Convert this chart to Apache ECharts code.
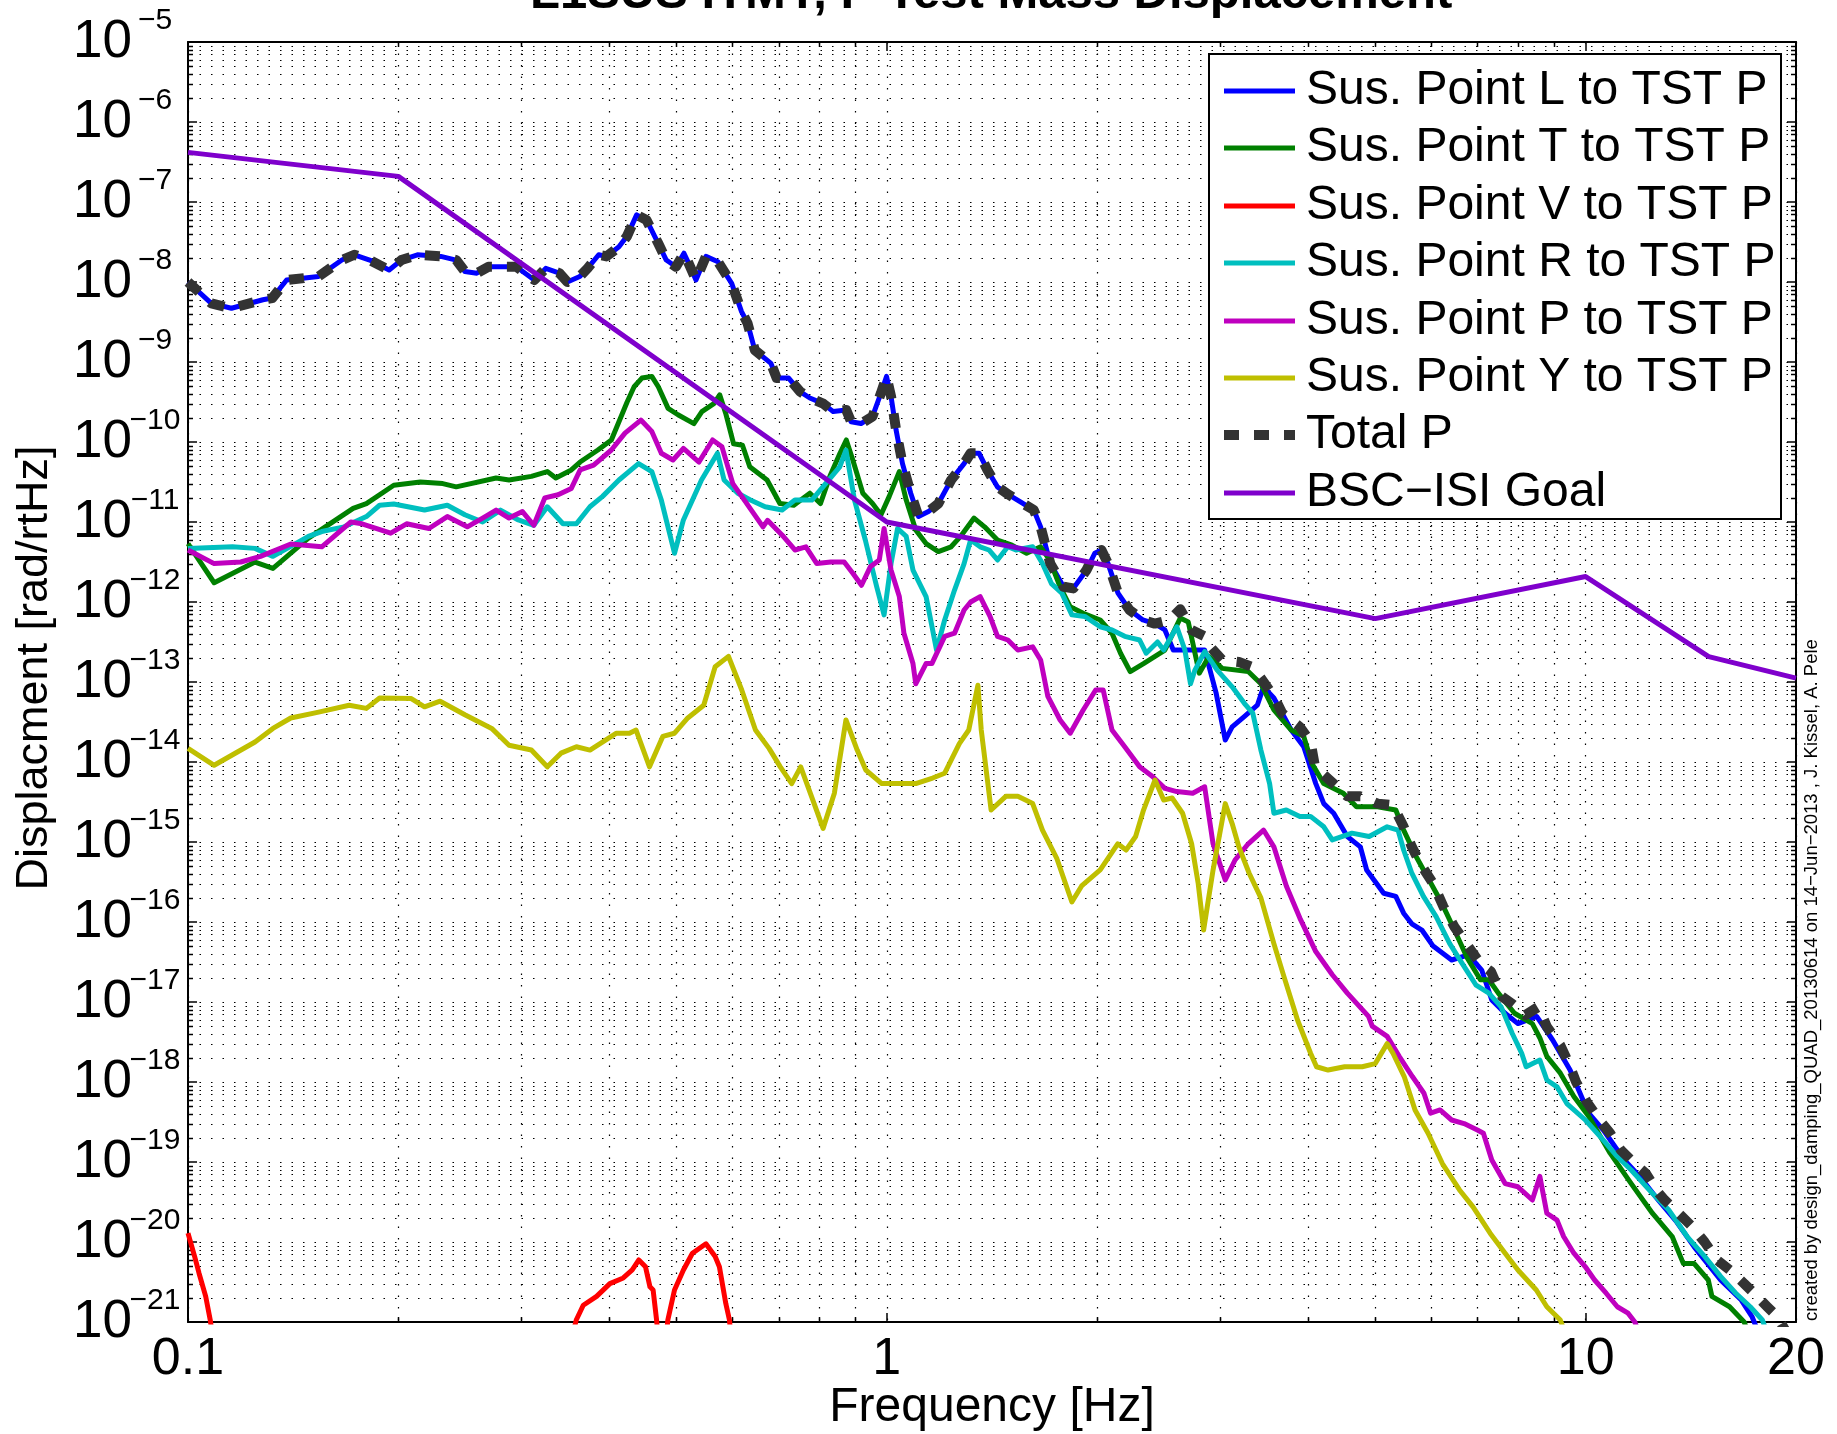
<!DOCTYPE html>
<html>
<head>
<meta charset="utf-8">
<script src="https://cdn.jsdelivr.net/npm/echarts@6/dist/echarts.min.js"></script>
<style>
  html, body { margin: 0; padding: 0; background: #ffffff; }
  #chart { width: 1837px; height: 1434px; }
</style>
</head>
<body>
<div id="chart"></div>
<script>
const FONT = '"Liberation Sans", Arial, Helvetica, sans-serif';

// Sus. Point L to TST P
const freqL = [0.1, 0.108, 0.1154, 0.128, 0.132, 0.1384, 0.1537, 0.166, 0.173, 0.182,
  0.194, 0.202, 0.213, 0.23, 0.242, 0.249, 0.259, 0.269, 0.28, 0.295,
  0.313, 0.325, 0.34, 0.349, 0.3636, 0.373, 0.387, 0.397, 0.4137, 0.4247,
  0.4385, 0.453, 0.471, 0.4835, 0.4992, 0.5125, 0.5193, 0.5332, 0.551, 0.5733,
  0.5998, 0.6196, 0.632, 0.6473, 0.6827, 0.6955, 0.7237, 0.7513, 0.776, 0.8109,
  0.838, 0.875, 0.889, 0.9185, 0.954, 0.9807, 0.999, 1.014, 1.031, 1.053,
  1.082, 1.11, 1.147, 1.185, 1.236, 1.29, 1.318, 1.355, 1.393, 1.4395,
  1.495, 1.553, 1.623, 1.66, 1.714, 1.79, 1.849, 1.931, 1.984, 2.028,
  2.073, 2.142, 2.225, 2.325, 2.418, 2.5, 2.57, 2.7, 2.85, 2.96,
  3.05, 3.12, 3.25, 3.39, 3.46, 3.58, 3.79, 3.95, 4.11, 4.22,
  4.36, 4.56, 4.76, 4.86, 5.14, 5.35, 5.49, 5.64, 5.83, 6.05,
  6.43, 6.8, 7.1, 7.34, 7.67, 8.0, 8.51, 8.97, 9.5, 10.1,
  10.6, 11.36, 12.0, 12.7, 13.5, 14.3, 15.6, 16.7, 17.3, 17.8];
const dispL = [1.0e-8, 5.4e-9, 4.7e-9, 6.0e-9, 6.3e-9, 1.06e-8, 1.17e-8, 1.88e-8, 2.19e-8, 1.88e-8,
  1.41e-8, 1.88e-8, 2.19e-8, 2.09e-8, 1.88e-8, 1.35e-8, 1.29e-8, 1.55e-8, 1.55e-8, 1.55e-8,
  1.06e-8, 1.48e-8, 1.29e-8, 1.0e-8, 1.17e-8, 1.48e-8, 2.19e-8, 2.09e-8, 2.75e-8, 3.72e-8,
  6.9e-8, 5.96e-8, 3.02e-8, 1.88e-8, 1.55e-8, 2.29e-8, 1.79e-8, 1.06e-8, 2.09e-8, 1.79e-8,
  9.6e-9, 4.27e-9, 3.05e-9, 1.41e-9, 9.6e-10, 6.3e-10, 6.3e-10, 4.27e-10, 3.55e-10, 3.02e-10,
  2.4e-10, 2.51e-10, 1.79e-10, 1.7e-10, 2.09e-10, 4.07e-10, 6.6e-10, 3.72e-10, 1.41e-10, 5.37e-11,
  2.29e-11, 1.17e-11, 1.35e-11, 1.7e-11, 3.35e-11, 5.37e-11, 7.24e-11, 7.24e-11, 4.47e-11, 2.75e-11,
  2.19e-11, 1.78e-11, 1.41e-11, 8.7e-12, 3.02e-12, 1.55e-12, 1.48e-12, 2.51e-12, 4.07e-12, 4.47e-12,
  3.02e-12, 1.29e-12, 7.94e-13, 5.96e-13, 5.37e-13, 4.47e-13, 2.51e-13, 2.51e-13, 2.51e-13, 7.24e-14,
  1.88e-14, 2.75e-14, 3.72e-14, 5.13e-14, 8.7e-14, 6.3e-14, 2.51e-14, 1.55e-14, 5.37e-15, 3.02e-15,
  2.29e-15, 1.17e-15, 8.7e-16, 4.47e-16, 2.29e-16, 2.09e-16, 1.29e-16, 9.5e-17, 7.94e-17, 5.0e-17,
  3.35e-17, 3.89e-17, 2.51e-17, 1.06e-17, 7.24e-18, 5.37e-18, 6.6e-18, 3.35e-18, 1.41e-18, 4.07e-19,
  2.51e-19, 1.06e-19, 6.3e-20, 3.35e-20, 1.78e-20, 8.7e-21, 3.35e-21, 1.88e-21, 1.17e-21, 6.3e-22];

// Sus. Point T to TST P
const freqT = [0.1, 0.109, 0.1247, 0.1323, 0.1487, 0.1723, 0.18, 0.197, 0.215, 0.2315,
  0.242, 0.276, 0.288, 0.31, 0.3267, 0.336, 0.3536, 0.364, 0.386, 0.4035,
  0.425, 0.4349, 0.4462, 0.461, 0.471, 0.4864, 0.5025, 0.5296, 0.5437, 0.5655,
  0.5766, 0.588, 0.6036, 0.6215, 0.6366, 0.674, 0.703, 0.736, 0.776, 0.8035,
  0.829, 0.857, 0.875, 0.894, 0.924, 0.954, 0.981, 1.008, 1.042, 1.066,
  1.1, 1.138, 1.185, 1.236, 1.275, 1.333, 1.38, 1.44, 1.51, 1.585,
  1.66, 1.71, 1.77, 1.83, 1.91, 2.02, 2.1, 2.16, 2.23, 2.33,
  2.5, 2.63, 2.7, 2.8, 2.89, 3.02, 3.29, 3.43, 3.58, 3.79,
  3.95, 4.06, 4.22, 4.5, 4.7, 5.04, 5.35, 5.49, 5.72, 5.97,
  6.23, 6.49, 6.77, 7.07, 7.27, 7.5, 7.91, 8.39, 8.6, 8.8,
  9.2, 9.62, 10.1, 10.84, 11.62, 12.46, 13.3, 13.8, 14.3, 14.98,
  15.16, 16.07, 16.86, 17.2];
const dispT = [5.37e-12, 1.74e-12, 3.16e-12, 2.63e-12, 6.3e-12, 1.48e-11, 1.7e-11, 2.88e-11, 3.16e-11, 3.02e-11,
  2.75e-11, 3.55e-11, 3.35e-11, 3.72e-11, 4.27e-11, 3.55e-11, 4.47e-11, 5.62e-11, 7.94e-11, 1.06e-10,
  3.16e-10, 4.9e-10, 6.3e-10, 6.6e-10, 4.9e-10, 2.63e-10, 2.19e-10, 1.7e-10, 2.4e-10, 3.02e-10,
  3.89e-10, 2.29e-10, 9.5e-11, 9.1e-11, 4.9e-11, 3.35e-11, 1.7e-11, 1.62e-11, 2.29e-11, 1.7e-11,
  3.72e-11, 7.24e-11, 1.06e-10, 5.96e-11, 2.29e-11, 1.7e-11, 1.23e-11, 2.09e-11, 4.27e-11, 1.88e-11,
  7.94e-12, 5.37e-12, 4.27e-12, 4.9e-12, 6.6e-12, 1.12e-11, 8.7e-12, 5.96e-12, 5.13e-12, 4.07e-12,
  4.9e-12, 3.35e-12, 1.55e-12, 8.7e-13, 7.24e-13, 5.96e-13, 4.07e-13, 2.29e-13, 1.35e-13, 1.7e-13,
  2.51e-13, 6.3e-13, 5.62e-13, 1.29e-13, 2.09e-13, 1.48e-13, 1.35e-13, 9.5e-14, 4.47e-14, 2.51e-14,
  2.09e-14, 9.5e-15, 5.37e-15, 4.07e-15, 2.75e-15, 2.75e-15, 2.51e-15, 1.41e-15, 6.6e-16, 3.35e-16,
  1.7e-16, 7.94e-17, 3.55e-17, 1.9e-17, 1.9e-17, 1.29e-17, 7.24e-18, 5.37e-18, 3.55e-18, 2.09e-18,
  1.29e-18, 6.6e-19, 3.72e-19, 1.29e-19, 5.37e-20, 2.29e-20, 1.17e-20, 5.37e-21, 5.37e-21, 3.35e-21,
  2.09e-21, 1.55e-21, 1.0e-21, 6.3e-22];

// Sus. Point V to TST P (mostly below the plotted range)
const freqV = [0.1, 0.1022, 0.1037, 0.106, 0.1076, 0.109, 0.352, 0.3594, 0.3678, 0.3843,
  0.4015, 0.4196, 0.4322, 0.4417, 0.4515, 0.4582, 0.463, 0.4683, 0.472, 0.482,
  0.486, 0.4968, 0.5116, 0.527, 0.551, 0.568, 0.576, 0.5883, 0.5954, 0.6];
const dispV = [1.29e-20, 6.6e-21, 4.07e-21, 2.09e-21, 1.06e-21, 5.0e-22, 5.0e-22, 1.06e-21, 1.62e-21, 2.09e-21,
  3.02e-21, 3.55e-21, 4.47e-21, 5.96e-21, 4.9e-21, 2.75e-21, 2.51e-21, 1.06e-21, 5.0e-22, 5.0e-22,
  1.06e-21, 2.51e-21, 4.47e-21, 7.24e-21, 9.5e-21, 6.6e-21, 4.9e-21, 1.7e-21, 1.06e-21, 5.0e-22];

// Sus. Point R to TST P
const freqR = [0.1, 0.1158, 0.1247, 0.1323, 0.1487, 0.1554, 0.1673, 0.18, 0.188, 0.197,
  0.218, 0.235, 0.249, 0.264, 0.28, 0.297, 0.3125, 0.3267, 0.344, 0.3596,
  0.376, 0.392, 0.4137, 0.4413, 0.461, 0.4757, 0.4968, 0.5116, 0.543, 0.5723,
  0.585, 0.612, 0.638, 0.6696, 0.7083, 0.7387, 0.781, 0.8563, 0.874, 0.899,
  0.9316, 0.9672, 0.991, 1.014, 1.036, 1.066, 1.09, 1.138, 1.163, 1.178,
  1.21, 1.25, 1.29, 1.318, 1.36, 1.4, 1.44, 1.49, 1.53, 1.617,
  1.67, 1.72, 1.78, 1.84, 1.92, 2.02, 2.1, 2.19, 2.3, 2.35,
  2.44, 2.49, 2.6, 2.67, 2.72, 2.76, 2.85, 2.97, 3.12, 3.25,
  3.34, 3.43, 3.53, 3.58, 3.73, 3.9, 4.04, 4.22, 4.34, 4.63,
  4.9, 5.2, 5.39, 5.49, 5.64, 5.86, 6.11, 6.39, 6.66, 6.97,
  7.27, 7.57, 7.85, 8.1, 8.22, 8.6, 8.8, 9.1, 9.4, 9.99,
  10.6, 11.1, 11.62, 12.46, 13.15, 13.97, 14.8, 15.6, 16.4, 17.2,
  17.9, 18.3];
const dispR = [4.68e-12, 4.9e-12, 4.68e-12, 3.72e-12, 6.6e-12, 7.6e-12, 8.7e-12, 1.17e-11, 1.62e-11, 1.68e-11,
  1.41e-11, 1.62e-11, 1.23e-11, 1.0e-11, 1.41e-11, 1.06e-11, 9.1e-12, 1.55e-11, 9.5e-12, 9.5e-12,
  1.55e-11, 2.09e-11, 3.35e-11, 5.37e-11, 4.27e-11, 1.88e-11, 4.07e-12, 1.06e-11, 3.35e-11, 7.24e-11,
  3.35e-11, 2.29e-11, 1.88e-11, 1.55e-11, 1.41e-11, 1.88e-11, 1.88e-11, 4.9e-11, 7.94e-11, 1.88e-11,
  5.96e-12, 1.55e-12, 6.9e-13, 3.02e-12, 8.3e-12, 6.6e-12, 2.51e-12, 1.17e-12, 4.47e-13, 2.51e-13,
  5.96e-13, 1.41e-12, 3.02e-12, 5.96e-12, 4.9e-12, 4.47e-12, 3.35e-12, 4.9e-12, 4.47e-12, 4.9e-12,
  3.02e-12, 1.7e-12, 1.29e-12, 6.9e-13, 6.6e-13, 4.9e-13, 4.47e-13, 3.72e-13, 3.35e-13, 2.29e-13,
  3.16e-13, 2.51e-13, 4.9e-13, 2.51e-13, 9.5e-14, 1.41e-13, 2.4e-13, 1.41e-13, 8.7e-14, 5.37e-14,
  4.07e-14, 1.41e-14, 5.37e-15, 2.29e-15, 2.51e-15, 2.09e-15, 2.09e-15, 1.55e-15, 1.06e-15, 1.29e-15,
  1.17e-15, 1.55e-15, 1.41e-15, 7.94e-16, 4.07e-16, 2.09e-16, 1.17e-16, 5.37e-17, 3.02e-17, 1.62e-17,
  1.29e-17, 8.7e-18, 4.07e-18, 2.29e-18, 1.55e-18, 1.88e-18, 1.06e-18, 8.7e-19, 5.37e-19, 3.35e-19,
  1.88e-19, 1.17e-19, 7.94e-20, 4.07e-20, 2.51e-20, 1.17e-20, 6.6e-21, 3.72e-21, 2.29e-21, 1.55e-21,
  1.06e-21, 6.3e-22];

// Sus. Point P to TST P
const freqP = [0.1, 0.109, 0.119, 0.127, 0.1403, 0.1554, 0.171, 0.1774, 0.195, 0.2055,
  0.2212, 0.235, 0.251, 0.264, 0.276, 0.288, 0.301, 0.3125, 0.324, 0.3385,
  0.3536, 0.364, 0.3806, 0.4035, 0.422, 0.4447, 0.461, 0.4757, 0.4943, 0.5116,
  0.5385, 0.5632, 0.5809, 0.602, 0.62, 0.665, 0.675, 0.708, 0.7387, 0.766,
  0.794, 0.8315, 0.869, 0.894, 0.92, 0.947, 0.9756, 0.991, 1.014, 1.042,
  1.058, 1.09, 1.1, 1.138, 1.16, 1.21, 1.25, 1.29, 1.318, 1.36,
  1.405, 1.44, 1.49, 1.54, 1.617, 1.66, 1.7, 1.77, 1.83, 1.91,
  1.99, 2.04, 2.1, 2.19, 2.3, 2.4, 2.5, 2.6, 2.74, 2.85,
  2.93, 3.05, 3.15, 3.29, 3.46, 3.58, 3.73, 3.9, 4.11, 4.34,
  4.56, 4.89, 4.95, 5.2, 5.41, 5.65, 5.87, 6.0, 6.19, 6.43,
  6.7, 7.0, 7.14, 7.34, 7.67, 8.0, 8.39, 8.6, 8.8, 9.1,
  9.3, 9.62, 9.99, 10.3, 10.7, 11.1, 11.5, 11.76, 12.0];
const dispP = [4.47e-12, 3.02e-12, 3.16e-12, 3.72e-12, 5.3e-12, 4.9e-12, 1.0e-11, 9.5e-12, 7.24e-12, 9.5e-12,
  8.3e-12, 1.17e-11, 8.7e-12, 1.12e-11, 1.41e-11, 1.12e-11, 1.35e-11, 9.1e-12, 2.0e-11, 2.19e-11,
  2.63e-11, 4.47e-11, 5.13e-11, 7.94e-11, 1.29e-10, 1.88e-10, 1.35e-10, 7.24e-11, 5.96e-11, 8.3e-11,
  5.62e-11, 1.06e-10, 8.7e-11, 3.02e-11, 2.09e-11, 8.7e-12, 1.05e-11, 6.9e-12, 4.47e-12, 4.9e-12,
  3.02e-12, 3.16e-12, 3.16e-12, 2.29e-12, 1.62e-12, 2.75e-12, 3.35e-12, 8.3e-12, 2.51e-12, 1.17e-12,
  4.07e-13, 1.7e-13, 9.5e-14, 1.7e-13, 1.7e-13, 3.72e-13, 4.07e-13, 7.94e-13, 1.0e-12, 1.17e-12,
  6.6e-13, 3.72e-13, 3.35e-13, 2.51e-13, 2.75e-13, 1.88e-13, 6.6e-14, 3.35e-14, 2.29e-14, 4.47e-14,
  7.94e-14, 7.94e-14, 2.51e-14, 1.55e-14, 8.7e-15, 6.6e-15, 4.68e-15, 4.27e-15, 4.07e-15, 4.9e-15,
  9.5e-16, 3.35e-16, 5.96e-16, 9.5e-16, 1.41e-15, 8.7e-16, 2.82e-16, 1.12e-16, 4.27e-17, 2.19e-17,
  1.29e-17, 6.6e-18, 5.0e-18, 3.72e-18, 2.09e-18, 1.17e-18, 7.24e-19, 4.07e-19, 4.47e-19, 3.35e-19,
  3.02e-19, 2.51e-19, 2.29e-19, 1.06e-19, 5.37e-20, 4.9e-20, 3.35e-20, 6.6e-20, 2.29e-20, 1.88e-20,
  1.17e-20, 7.24e-21, 4.9e-21, 3.35e-21, 2.29e-21, 1.55e-21, 1.29e-21, 1.0e-21, 6.3e-22];

// Sus. Point Y to TST P
const freqY = [0.1, 0.109, 0.1247, 0.1323, 0.1403, 0.1532, 0.1701, 0.18, 0.188, 0.2087,
  0.218, 0.2295, 0.249, 0.272, 0.288, 0.31, 0.3267, 0.3418, 0.3596, 0.376,
  0.4103, 0.4283, 0.4377, 0.4575, 0.478, 0.4968, 0.519, 0.547, 0.568, 0.5935,
  0.62, 0.6487, 0.6784, 0.704, 0.731, 0.753, 0.787, 0.8106, 0.8413, 0.874,
  0.907, 0.933, 0.9835, 1.042, 1.1, 1.163, 1.21, 1.27, 1.31, 1.35,
  1.365, 1.393, 1.41, 1.48, 1.54, 1.617, 1.67, 1.75, 1.84, 1.9,
  2.02, 2.14, 2.2, 2.27, 2.33, 2.42, 2.49, 2.56, 2.65, 2.73,
  2.79, 2.84, 2.93, 3.05, 3.12, 3.19, 3.3, 3.43, 3.58, 3.7,
  3.87, 4.04, 4.12, 4.28, 4.52, 4.79, 5.0, 5.2, 5.3, 5.5,
  5.7, 5.95, 6.24, 6.6, 6.9, 7.3, 7.67, 8.0, 8.5, 8.8,
  9.2, 9.4];
const dispY = [1.48e-14, 9.1e-15, 1.78e-14, 2.63e-14, 3.55e-14, 4.17e-14, 5.13e-14, 4.68e-14, 6.3e-14, 6.2e-14,
  4.9e-14, 5.75e-14, 3.89e-14, 2.63e-14, 1.62e-14, 1.41e-14, 8.7e-15, 1.29e-14, 1.55e-14, 1.41e-14,
  2.29e-14, 2.29e-14, 2.51e-14, 8.7e-15, 2.09e-14, 2.29e-14, 3.55e-14, 5.13e-14, 1.55e-13, 2.09e-13,
  7.94e-14, 2.51e-14, 1.48e-14, 8.7e-15, 5.37e-15, 8.7e-15, 3.02e-15, 1.48e-15, 4.07e-15, 3.35e-14,
  1.41e-14, 7.94e-15, 5.37e-15, 5.37e-15, 5.37e-15, 6.3e-15, 7.24e-15, 1.7e-14, 2.51e-14, 9.1e-14,
  2.51e-14, 5.96e-15, 2.51e-15, 3.72e-15, 3.72e-15, 3.02e-15, 1.41e-15, 6.3e-16, 1.78e-16, 2.82e-16,
  4.47e-16, 9.5e-16, 7.94e-16, 1.17e-15, 2.51e-15, 5.96e-15, 3.35e-15, 3.55e-15, 2.29e-15, 9.5e-16,
  3.02e-16, 7.94e-17, 4.47e-16, 3.02e-15, 1.7e-15, 8.7e-16, 4.07e-16, 2.0e-16, 5.37e-17, 2.09e-17,
  5.96e-18, 2.29e-18, 1.55e-18, 1.41e-18, 1.55e-18, 1.55e-18, 1.7e-18, 3.02e-18, 2.29e-18, 1.17e-18,
  4.47e-19, 2.29e-19, 9.5e-20, 4.47e-20, 2.75e-20, 1.29e-20, 7.24e-21, 4.47e-21, 2.51e-21, 1.55e-21,
  1.06e-21, 6.3e-22];

// Total P (quadrature sum of all paths)
const freqTotal = [0.1, 0.108, 0.1154, 0.128, 0.132, 0.1384, 0.1537, 0.166, 0.173, 0.182,
  0.194, 0.202, 0.213, 0.23, 0.242, 0.249, 0.259, 0.269, 0.28, 0.295,
  0.313, 0.325, 0.34, 0.349, 0.3636, 0.373, 0.387, 0.397, 0.4137, 0.4247,
  0.4385, 0.453, 0.471, 0.4835, 0.4992, 0.5125, 0.5193, 0.5332, 0.551, 0.5733,
  0.5998, 0.6196, 0.632, 0.6473, 0.6827, 0.6955, 0.7237, 0.7513, 0.776, 0.8109,
  0.838, 0.875, 0.889, 0.9185, 0.954, 0.9807, 0.999, 1.014, 1.031, 1.053,
  1.082, 1.11, 1.147, 1.185, 1.236, 1.29, 1.318, 1.355, 1.393, 1.4395,
  1.495, 1.553, 1.623, 1.66, 1.714, 1.79, 1.849, 1.931, 1.984, 2.028,
  2.073, 2.142, 2.225, 2.325, 2.418,
  2.54, 2.63, 2.73, 2.85, 2.89, 3.02, 3.19, 3.33, 3.43, 3.58,
  3.68, 3.9, 4.04, 4.1, 4.3, 4.56, 4.76, 5.04, 5.3, 5.49,
  5.64, 5.8, 6.05, 6.26, 6.49, 6.77, 7.07, 7.32, 7.59, 7.85,
  8.2, 8.56, 8.8, 9.2, 9.46, 9.69, 10.04, 10.46, 10.84, 11.23,
  11.76, 12.19, 12.67, 12.97, 13.73, 14.14, 14.8, 15.42, 16.07, 16.86,
  17.41, 18.19, 18.8, 19.3];
const dispTotal = [1.0e-8, 5.4e-9, 4.7e-9, 6.0e-9, 6.3e-9, 1.06e-8, 1.17e-8, 1.88e-8, 2.19e-8, 1.88e-8,
  1.41e-8, 1.88e-8, 2.19e-8, 2.09e-8, 1.88e-8, 1.35e-8, 1.29e-8, 1.55e-8, 1.55e-8, 1.55e-8,
  1.06e-8, 1.48e-8, 1.29e-8, 1.0e-8, 1.17e-8, 1.48e-8, 2.19e-8, 2.09e-8, 2.75e-8, 3.72e-8,
  6.9e-8, 5.96e-8, 3.02e-8, 1.88e-8, 1.55e-8, 2.29e-8, 1.79e-8, 1.06e-8, 2.09e-8, 1.79e-8,
  9.6e-9, 4.27e-9, 3.05e-9, 1.41e-9, 9.6e-10, 6.3e-10, 6.3e-10, 4.27e-10, 3.55e-10, 3.02e-10,
  2.4e-10, 2.51e-10, 1.79e-10, 1.7e-10, 2.09e-10, 4.07e-10, 6.6e-10, 3.72e-10, 1.41e-10, 5.37e-11,
  2.29e-11, 1.17e-11, 1.35e-11, 1.7e-11, 3.35e-11, 5.37e-11, 7.24e-11, 7.24e-11, 4.47e-11, 2.75e-11,
  2.19e-11, 1.78e-11, 1.41e-11, 8.7e-12, 3.02e-12, 1.55e-12, 1.48e-12, 2.51e-12, 4.07e-12, 4.47e-12,
  3.02e-12, 1.29e-12, 7.94e-13, 5.96e-13, 5.37e-13,
  5.96e-13, 8.1e-13, 4.47e-13, 3.72e-13, 2.88e-13, 1.88e-13, 1.78e-13, 1.55e-13, 1.12e-13, 6.6e-14,
  4.07e-14, 2.75e-14, 1.78e-14, 8.7e-15, 5.96e-15, 3.72e-15, 3.72e-15, 3.02e-15, 2.88e-15, 1.55e-15,
  8.7e-16, 5.37e-16, 3.02e-16, 1.55e-16, 8.7e-17, 5.13e-17, 3.02e-17, 2.4e-17, 1.17e-17, 9.5e-18,
  6.9e-18, 8.7e-18, 4.9e-18, 2.88e-18, 1.7e-18, 1.0e-18, 5.62e-19, 3.35e-19, 2.29e-19, 1.41e-19,
  9.5e-20, 7.24e-20, 4.27e-20, 3.35e-20, 2.09e-20, 1.62e-20, 1.0e-20, 5.96e-21, 4.47e-21, 3.02e-21,
  2.29e-21, 1.55e-21, 1.17e-21, 7.9e-22];

// BSC-ISI Goal (piecewise straight in log-log)
const freqGoal = [0.1, 0.2, 1, 5, 10, 15, 20];
const dispGoal = [4.17e-7, 2.09e-7, 1.0e-11, 6.2e-13, 2.08e-12, 2.08e-13, 1.12e-13];

const seriesNames = ['Sus. Point L to TST P', 'Sus. Point T to TST P', 'Sus. Point V to TST P',
  'Sus. Point R to TST P', 'Sus. Point P to TST P', 'Sus. Point Y to TST P', 'Total P', 'BSC\u2212ISI Goal'];
const seriesColors = ['#0000ff', '#008000', '#ff0000', '#00bfbf', '#bf00bf', '#bfbf00', '#333333', '#7f00cc'];

// tick labels
const xTickLabels = { 0.1: '0.1', 1: '1', 10: '10', 20: '20' };
const yTickExponents = [-21, -20, -19, -18, -17, -16, -15, -14, -13, -12, -11, -10, -9, -8, -7, -6, -5];

const minorFreqs = [0.2, 0.3, 0.4, 0.5, 0.6, 0.7, 0.8, 0.9, 2, 3, 4, 5, 6, 7, 8, 9];
const minorMantissas = [2, 3, 4, 5, 6, 7, 8, 9];
const decadeExponents = [-21, -20, -19, -18, -17, -16, -15, -14, -13, -12, -11, -10, -9, -8, -7, -6];

// plot frame and legend box, in pixels
const PLOT = { left: 188, top: 42, right: 1796, bottom: 1322 };
const LEGEND = { x: 1209, y: 54, w: 572, h: 465, lineX0: 1224, lineX1: 1295, textX: 1306, row0: 91, rowStep: 57.4 };

function pairs(fs, vs) {
  return fs.map((f, i) => [f, vs[i]]);
}

// minor grid lines: [x, y, kind] where kind 0 = horizontal, 1 = vertical
const minorGrid = [];
decadeExponents.forEach(e => minorMantissas.forEach(m => minorGrid.push([0.1, m * Math.pow(10, e), 0])));
minorFreqs.forEach(f => minorGrid.push([f, 1e-21, 1]));

function renderMinor(params, api) {
  const cs = params.coordSys;
  const kind = api.value(2);
  const p = api.coord([api.value(0), api.value(1)]);
  const dot = { stroke: '#000', lineWidth: 1.2, lineDash: [1.5, 10] };
  const tick = { stroke: '#000', lineWidth: 1.5 };
  if (kind === 0) {
    const y = Math.round(p[1]) + 0.5;
    return { type: 'group', children: [
      { type: 'line', shape: { x1: cs.x, y1: y, x2: cs.x + cs.width, y2: y }, style: dot },
      { type: 'line', shape: { x1: cs.x, y1: y, x2: cs.x + 5, y2: y }, style: tick },
      { type: 'line', shape: { x1: cs.x + cs.width - 5, y1: y, x2: cs.x + cs.width, y2: y }, style: tick }
    ]};
  }
  const x = Math.round(p[0]) + 0.5;
  return { type: 'group', children: [
    { type: 'line', shape: { x1: x, y1: cs.y, x2: x, y2: cs.y + cs.height }, style: dot },
    { type: 'line', shape: { x1: x, y1: cs.y + cs.height, x2: x, y2: cs.y + cs.height - 5 }, style: tick },
    { type: 'line', shape: { x1: x, y1: cs.y, x2: x, y2: cs.y + 5 }, style: tick }
  ]};
}

// decade labels 10^n on the left axis, placed through the y scale
const yLabelData = yTickExponents.map(e => [0.1, Math.pow(10, e), e]);
const yLabelRich = {
  b: { fontSize: 53, fontFamily: FONT, fill: '#000', lineHeight: 53, padding: [12, 0, 12, 0] },
  s: { fontSize: 30, fontFamily: FONT, fill: '#000', lineHeight: 30, padding: [2, 0, 45, 0], width: 46, align: 'left' }
};
function renderYLabel(params, api) {
  const cs = params.coordSys;
  const e = api.value(2);
  const p = api.coord([api.value(0), api.value(1)]);
  return {
    type: 'text',
    x: cs.x - 10,
    y: p[1],
    style: {
      text: '{b|10}{s|' + (e < 0 ? '\u2212' : '') + Math.abs(e) + '}',
      rich: yLabelRich,
      align: 'right',
      verticalAlign: 'middle',
      fill: '#000'
    }
  };
}

const lineData = [
  pairs(freqL, dispL), pairs(freqT, dispT), pairs(freqV, dispV), pairs(freqR, dispR),
  pairs(freqP, dispP), pairs(freqY, dispY), pairs(freqTotal, dispTotal), pairs(freqGoal, dispGoal)
];

const TOTAL_DASH = [15, 15];
function lineStyleFor(i) {
  return i === 6
    ? { color: seriesColors[i], width: 10, type: TOTAL_DASH, cap: 'butt', join: 'round' }
    : { color: seriesColors[i], width: 5, join: 'round' };
}

const dataSeries = lineData.map((d, i) => ({
  name: seriesNames[i],
  type: 'line',
  data: d,
  symbol: 'none',
  showSymbol: false,
  clip: true,
  z: 3 + i,
  color: seriesColors[i],
  lineStyle: lineStyleFor(i),
  emphasis: { disabled: true }
}));

// legend box drawn as plain graphics
const legendGraphics = [{
  type: 'rect', z: 100, silent: true,
  shape: { x: LEGEND.x, y: LEGEND.y, width: LEGEND.w, height: LEGEND.h },
  style: { fill: '#fff', stroke: '#000', lineWidth: 2 }
}];
seriesNames.forEach((name, i) => {
  const cy = Math.round(LEGEND.row0 + i * LEGEND.rowStep);
  const ls = lineStyleFor(i);
  legendGraphics.push({
    type: 'line', z: 101, silent: true,
    shape: { x1: LEGEND.lineX0, y1: cy, x2: LEGEND.lineX1, y2: cy },
    style: { stroke: ls.color, lineWidth: ls.width, lineDash: i === 6 ? TOTAL_DASH : null, lineCap: 'butt' }
  });
  legendGraphics.push({
    type: 'text', z: 101, silent: true,
    x: LEGEND.textX, y: cy,
    style: { text: name, fontSize: 48, fontFamily: FONT, fill: '#000', align: 'left', verticalAlign: 'middle' }
  });
});

const axisCommon = {
  axisLine: { show: true, onZero: false, lineStyle: { color: '#000', width: 2 } },
  axisTick: { show: true, inside: true, length: 9, lineStyle: { color: '#000', width: 1.5 } }
};
const dotted = { show: true, lineStyle: { color: '#000', width: 1.2, type: [1.5, 10] } };

const chart = echarts.init(document.getElementById('chart'), null, { renderer: 'canvas', width: 1837, height: 1434 });
chart.setOption({
  animation: false,
  backgroundColor: '#ffffff',
  title: {
    text: 'L1SUS ITMY, P Test Mass Displacement',
    left: 530, top: -30, padding: 0,
    textStyle: { fontSize: 49, fontWeight: 'bold', fontFamily: FONT, color: '#000' }
  },
  grid: {
    left: PLOT.left, right: 1837 - PLOT.right, top: PLOT.top, bottom: 1434 - PLOT.bottom,
    containLabel: false, outerBoundsMode: 'none'
  },
  xAxis: [
    Object.assign({
      type: 'log', logBase: 10, min: 0.1, max: 20, interval: 1, position: 'bottom',
      axisLabel: {
        formatter: v => xTickLabels[parseFloat(Number(v).toPrecision(3))] || '',
        fontSize: 52, fontFamily: FONT, color: '#000', margin: 12,
        showMinLabel: true, showMaxLabel: true, hideOverlap: false
      },
      splitLine: dotted,
      name: 'Frequency [Hz]', nameLocation: 'middle', nameGap: 62, nameMoveOverlap: false,
      nameTextStyle: { fontSize: 48, fontFamily: FONT, color: '#000' }
    }, axisCommon),
    Object.assign({
      type: 'log', logBase: 10, min: 0.1, max: 20, interval: 1, position: 'top',
      axisLabel: { show: false }, splitLine: { show: false }
    }, axisCommon)
  ],
  yAxis: [
    Object.assign({
      type: 'log', logBase: 10, min: 1e-21, max: 1e-5, interval: 1, position: 'left',
      axisLabel: { show: false },
      splitLine: dotted,
      name: 'Displacment [rad/rtHz]', nameLocation: 'middle', nameGap: 131, nameRotate: 90, nameMoveOverlap: false,
      nameTextStyle: { fontSize: 45, fontFamily: FONT, color: '#000', padding: [0, 0, 0, 28] }
    }, axisCommon),
    Object.assign({
      type: 'log', logBase: 10, min: 1e-21, max: 1e-5, interval: 1, position: 'right',
      axisLabel: { show: false }, splitLine: { show: false }
    }, axisCommon)
  ],
  graphic: legendGraphics.concat([{
    type: 'text',
    x: 1812, y: 1321,
    rotation: Math.PI / 2,
    silent: true,
    style: {
      text: 'created by design_damping_QUAD_20130614 on 14\u2212Jun\u22122013 , J. Kissel, A. Pele',
      fontSize: 18.5, fontFamily: FONT, fill: '#000',
      align: 'left', verticalAlign: 'middle'
    }
  }]),
  series: [{
    type: 'custom',
    name: 'minor-grid',
    silent: true,
    z: 1,
    renderItem: renderMinor,
    data: minorGrid,
    clip: false
  }, {
    type: 'custom',
    name: 'y-labels',
    silent: true,
    z: 1,
    renderItem: renderYLabel,
    data: yLabelData,
    clip: false
  }].concat(dataSeries)
});
</script>
</body>
</html>
